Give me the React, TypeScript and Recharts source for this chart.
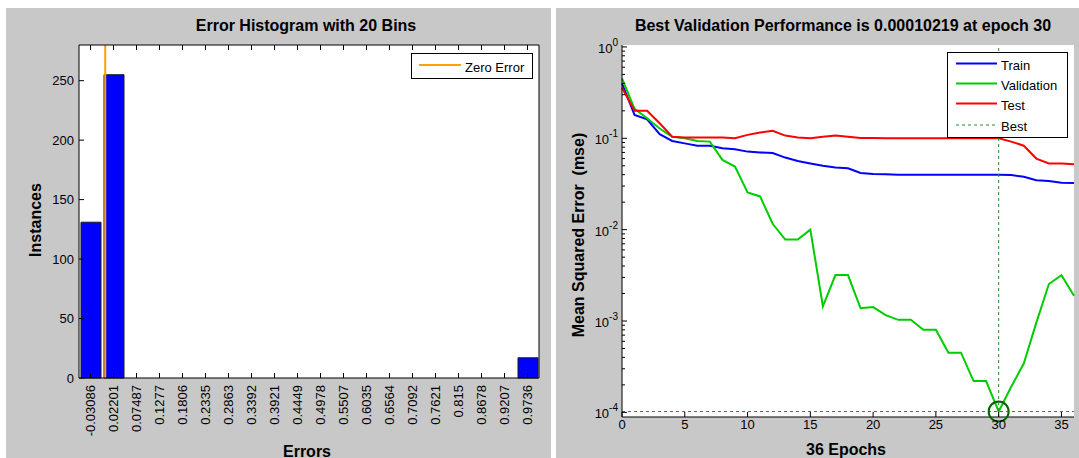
import { BarChart, Bar, LineChart, Line, XAxis, YAxis, CartesianGrid, ReferenceLine, ReferenceDot, Legend } from 'recharts';

const FONT = '"Liberation Sans", Arial, sans-serif';

// ---- histogram data ----
const binLabels = [
  '-0.03086', '0.02201', '0.07487', '0.1277', '0.1806', '0.2335', '0.2863', '0.3392', '0.3921', '0.4449',
  '0.4978', '0.5507', '0.6035', '0.6564', '0.7092', '0.7621', '0.815', '0.8678', '0.9207', '0.9736',
];
const binCenters = [
  -0.03086, 0.02201, 0.07487, 0.1277, 0.1806, 0.2335, 0.2863, 0.3392, 0.3921, 0.4449,
  0.4978, 0.5507, 0.6035, 0.6564, 0.7092, 0.7621, 0.815, 0.8678, 0.9207, 0.9736,
];
const binCounts = [131, 255, 0, 0, 0, 0, 0, 0, 0, 0, 0, 0, 0, 0, 0, 0, 0, 0, 0, 17];
const countTicks = [0, 50, 100, 150, 200, 250];

// ---- performance data ----
const epochs = [0, 1, 2, 3, 4, 5, 6, 7, 8, 9, 10, 11, 12, 13, 14, 15, 16, 17, 18, 19, 20, 21, 22, 23, 24, 25, 26, 27, 28, 29, 30, 31, 32, 33, 34, 35, 36];
const trainPerf = [
  0.40, 0.18, 0.161, 0.111, 0.0935, 0.088, 0.083, 0.083, 0.078, 0.076, 0.0715, 0.070, 0.069,
  0.0615, 0.0565, 0.053, 0.050, 0.048, 0.047, 0.0418, 0.0407, 0.0405, 0.0400, 0.0398, 0.0398,
  0.0398, 0.0398, 0.0398, 0.0398, 0.0398, 0.0398, 0.0396, 0.038, 0.0347, 0.034, 0.0327, 0.0325,
];
const valPerf = [
  0.453, 0.21, 0.166, 0.128, 0.104, 0.10, 0.0935, 0.092, 0.058, 0.049, 0.0256, 0.0231, 0.0116,
  0.0078, 0.0078, 0.0100, 0.00145, 0.00318, 0.00318, 0.00138, 0.00142, 0.00116, 0.00103, 0.00103,
  0.0008, 0.0008, 0.00045, 0.00045, 0.00022, 0.00022, 0.00010219, 0.000191, 0.000342, 0.00096,
  0.00254, 0.00318, 0.00189,
];
const testPerf = [
  0.358, 0.20, 0.20, 0.146, 0.104, 0.102, 0.102, 0.102, 0.102, 0.10, 0.109, 0.116, 0.121,
  0.107, 0.102, 0.10, 0.104, 0.107, 0.104, 0.101, 0.101, 0.10, 0.10, 0.10, 0.10, 0.10, 0.10,
  0.10, 0.10, 0.10, 0.10, 0.092, 0.083, 0.060, 0.053, 0.053, 0.052,
];
const epochTicks = [0, 5, 10, 15, 20, 25, 30, 35];
const decadeTicks = [1e-4, 1e-3, 1e-2, 1e-1, 1];
const bestEpoch = 30;
const bestPerf = 0.00010219;

const histData = binLabels.map((label, i) => ({ label, count: binCounts[i] }));
// zero error position in "bin edge" units: 0 = left edge of first bin
const zeroPos = 0.5 + (0 - binCenters[0]) / (binCenters[1] - binCenters[0]);

const perfData = epochs.map((epoch, i) => ({
  epoch,
  train: trainPerf[i],
  val: valPerf[i],
  test: testPerf[i],
}));

// minor log ticks (2..9 per decade)
const mseTicks: number[] = [];
decadeTicks.forEach((d, i) => {
  mseTicks.push(d);
  if (i < decadeTicks.length - 1) {
    for (let m = 2; m <= 9; m++) mseTicks.push(Number((d * m).toPrecision(3)));
  }
});

const txt = { fontFamily: FONT, fill: '#000' };

// ticks drawn inward like MATLAB
const HistBottomTick = ({ x, y, payload }: any) => (
  <g>
    <line x1={x} x2={x} y1={y} y2={y - 5} stroke="#000" />
    <text transform={`translate(${x + 4.5},${y + 7}) rotate(-90)`} textAnchor="end" fontSize={13} {...txt}>
      {payload.value}
    </text>
  </g>
);
const HistTopTick = ({ x, y }: any) => <line x1={x} x2={x} y1={y} y2={y + 5} stroke="#000" />;
const HistLeftTick = ({ x, y, payload }: any) => (
  <g>
    <line x1={x} x2={x + 5} y1={y} y2={y} stroke="#000" />
    <text x={x - 5} y={y + 4.5} textAnchor="end" fontSize={13} {...txt}>{payload.value}</text>
  </g>
);
const HistRightTick = ({ x, y }: any) => <line x1={x - 5} x2={x} y1={y} y2={y} stroke="#000" />;

const EpochTick = ({ x, y, payload }: any) => (
  <g>
    <line x1={x} x2={x} y1={y} y2={y - 5} stroke="#000" />
    <text x={x} y={y + 12} textAnchor="middle" fontSize={13} {...txt}>{payload.value}</text>
  </g>
);
const LogTick = ({ x, y, payload }: any) => {
  const lg = Math.log10(payload.value);
  const exp = Math.round(lg);
  const major = Math.abs(lg - exp) < 1e-6;
  return (
    <g>
      <line x1={x} x2={x + (major ? 5 : 3)} y1={y} y2={y} stroke="#000" />
      {major && (
        <text x={x - 4} y={y + 6} textAnchor="end" fontSize={13} {...txt}>
          10<tspan dy={-7} fontSize={10}>{exp}</tspan>
        </text>
      )}
    </g>
  );
};

const ZeroLegend = () => (
  <svg width={122} height={26} style={{ display: 'block' }}>
    <rect x={0.5} y={0.5} width={121} height={25} fill="#fff" stroke="#000" />
    <line x1={8} x2={50} y1={12} y2={12} stroke="#ff9f00" strokeWidth={2} />
    <text x={54} y={19} fontSize={13} {...txt}>Zero Error</text>
  </svg>
);

const perfLegendItems = [
  { name: 'Train', color: '#0000ff', dash: undefined, width: 2, lineY: 11.5, textY: 17.5 },
  { name: 'Validation', color: '#00cc00', dash: undefined, width: 2, lineY: 31.5, textY: 37.5 },
  { name: 'Test', color: '#ff0000', dash: undefined, width: 2, lineY: 51.5, textY: 57.5 },
  { name: 'Best', color: '#2a8a2a', dash: '3 3', width: 1, lineY: 73, textY: 78.5 },
];
const PerfLegend = () => (
  <svg width={121} height={86} style={{ display: 'block' }}>
    <rect x={0.5} y={0.5} width={120} height={85} fill="#fff" stroke="#000" />
    {perfLegendItems.map((it) => (
      <g key={it.name}>
        <line x1={9} x2={50} y1={it.lineY} y2={it.lineY} stroke={it.color} strokeWidth={it.width} strokeDasharray={it.dash} />
        <text x={54} y={it.textY} fontSize={13} {...txt}>{it.name}</text>
      </g>
    ))}
  </svg>
);

export default function App() {
  return (
    <div style={{ position: 'absolute', left: 0, top: 0, width: 1079, height: 458, background: '#fff', overflow: 'hidden' }}>
      <div style={{ position: 'absolute', left: 6, top: 8, width: 545, height: 450, background: '#c8c8c8' }} />
      <div style={{ position: 'absolute', left: 556, top: 8, width: 523, height: 450, background: '#c8c8c8' }} />

      <div style={{ position: 'absolute', left: 0, top: 0 }}>
        <BarChart width={552} height={458} data={histData} margin={{ top: 44, right: 12, bottom: 0, left: 0 }} barSize={20}>
          <CartesianGrid fill="#fff" horizontal={false} vertical={false} />
          <XAxis xAxisId="bottom" dataKey="label" height={80} interval={0} tickSize={0} tickMargin={0}
            tick={<HistBottomTick />} axisLine={{ stroke: '#000' }} tickLine={false} />
          <XAxis xAxisId="top" dataKey="label" orientation="top" height={1} interval={0} tickSize={0} tickMargin={0}
            tick={<HistTopTick />} axisLine={{ stroke: '#000' }} tickLine={false} />
          <XAxis xAxisId="num" type="number" domain={[0, binLabels.length]} allowDataOverflow hide />
          <YAxis domain={[0, 280]} ticks={countTicks} width={79} interval={0} tickSize={0} tickMargin={0}
            tick={<HistLeftTick />} axisLine={{ stroke: '#000' }} tickLine={false} />
          <YAxis yAxisId="r" orientation="right" domain={[0, 280]} ticks={countTicks} width={1} interval={0}
            tickSize={0} tickMargin={0} tick={<HistRightTick />} axisLine={{ stroke: '#000' }} tickLine={false} />
          <Bar xAxisId="bottom" dataKey="count" fill="#0000ff" stroke="#1a1a1a" strokeWidth={1} isAnimationActive={false} />
          <ReferenceLine xAxisId="num" x={zeroPos} stroke="#ff9f00" strokeWidth={2} />
          <Legend layout="horizontal" verticalAlign="middle" align="center" content={<ZeroLegend />}
            wrapperStyle={{ left: 411, top: 53, width: 122, height: 26 }} />
        </BarChart>
      </div>

      <div style={{ position: 'absolute', left: 556, top: 0 }}>
        <LineChart width={523} height={458} data={perfData} margin={{ top: 45, right: 5, bottom: 0, left: 0 }}>
          <CartesianGrid fill="#fff" horizontal={false} vertical={false} />
          <XAxis dataKey="epoch" type="number" domain={[0, 36]} ticks={epochTicks} height={41} interval={0}
            tickSize={0} tickMargin={0} tick={<EpochTick />} axisLine={{ stroke: '#000' }} tickLine={false} />
          <YAxis scale="log" domain={[8.9e-5, 1.05]} allowDataOverflow ticks={mseTicks} width={66} interval={0}
            tickSize={0} tickMargin={0} tick={<LogTick />} axisLine={{ stroke: '#000' }} tickLine={false} />
          <Line type="linear" dataKey="train" stroke="#0000ff" strokeWidth={2} dot={false} isAnimationActive={false} />
          <Line type="linear" dataKey="val" stroke="#00cc00" strokeWidth={2} dot={false} isAnimationActive={false} />
          <Line type="linear" dataKey="test" stroke="#ff0000" strokeWidth={2} dot={false} isAnimationActive={false} />
          <ReferenceLine x={bestEpoch} stroke="#2a8a2a" strokeDasharray="3 3" />
          <ReferenceLine y={bestPerf} stroke="#2a8a2a" strokeDasharray="3 3" />
          <ReferenceDot x={bestEpoch} y={bestPerf} r={10} fill="none" stroke="#006400" strokeWidth={2} />
          <Legend layout="horizontal" verticalAlign="middle" align="center" content={<PerfLegend />}
            wrapperStyle={{ left: 391, top: 52, width: 121, height: 86 }} />
        </LineChart>
      </div>

      <svg width={1079} height={458} style={{ position: 'absolute', left: 0, top: 0, pointerEvents: 'none' }}>
        <g fontFamily={FONT} fontWeight="bold" fontSize={16} fill="#000">
          <text x={306} y={31} textAnchor="middle">Error Histogram with 20 Bins</text>
          <text x={843} y={31} textAnchor="middle">Best Validation Performance is 0.00010219 at epoch 30</text>
          <text transform="translate(41,220) rotate(-90)" textAnchor="middle">Instances</text>
          <text x={307} y={456.5} textAnchor="middle">Errors</text>
          <text x={846} y={454.5} textAnchor="middle">36 Epochs</text>
          <text transform="translate(584,235) rotate(-90)" textAnchor="middle" style={{ whiteSpace: 'pre' }}>
            {'Mean Squared Error  (mse)'}
          </text>
        </g>
      </svg>
    </div>
  );
}
